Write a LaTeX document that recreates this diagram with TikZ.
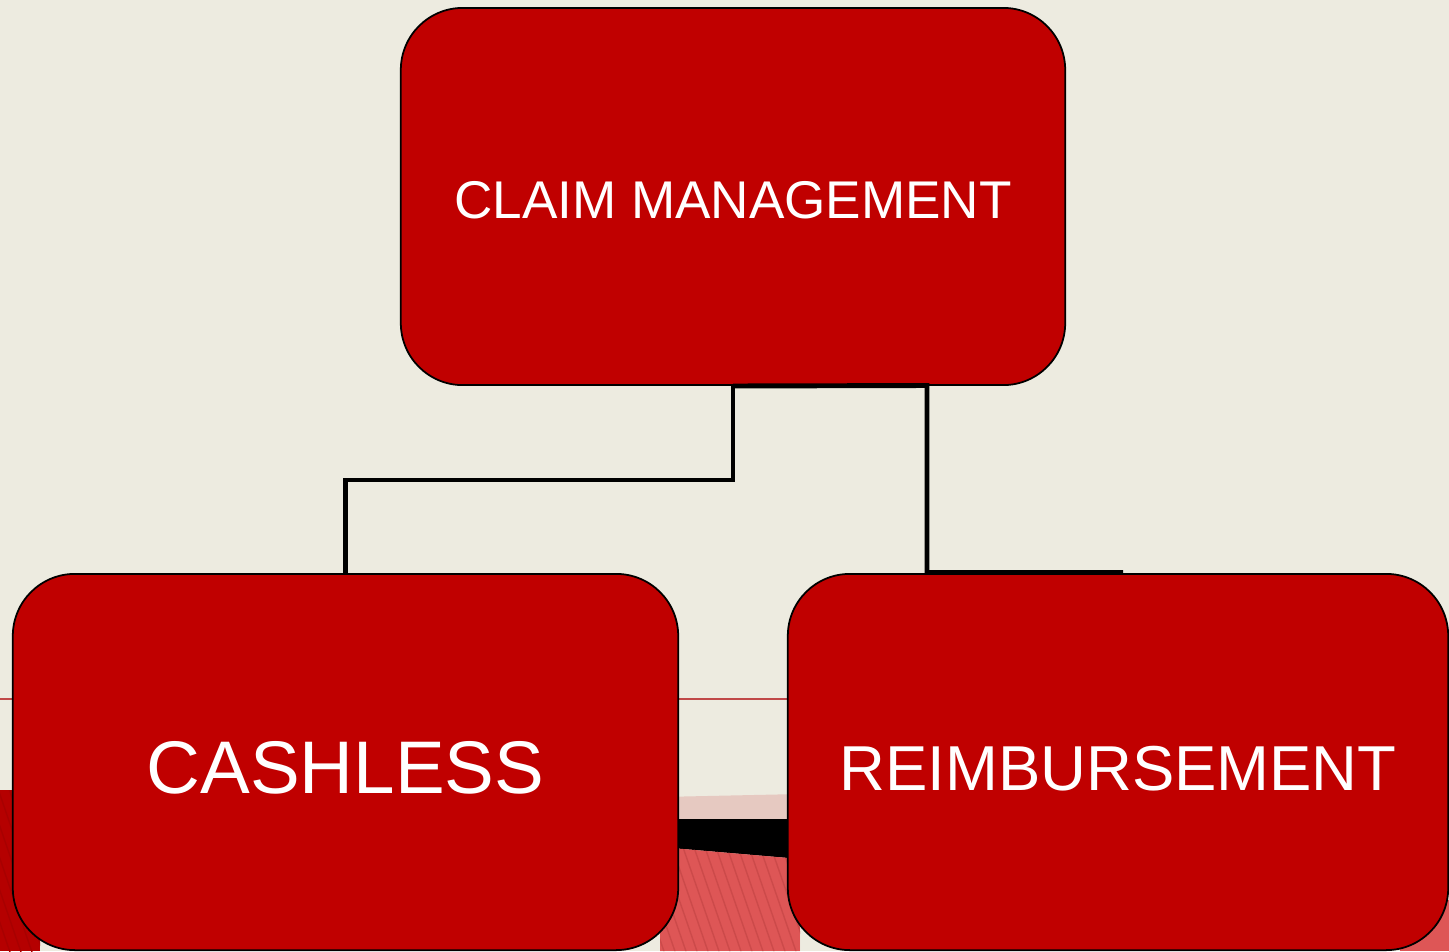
\documentclass[tikz,border=0pt]{standalone}
\usepackage{fontspec}
\setmainfont{Liberation Sans}
\definecolor{cream}{HTML}{EDEBE0}
\definecolor{boxred}{HTML}{C00000}
\definecolor{pinkband}{HTML}{E6C9C1}
\definecolor{hatchred}{HTML}{DE5656}
\definecolor{hatchline}{HTML}{CC4A4A}
\definecolor{darkred}{HTML}{B50000}
\definecolor{darkhatch}{HTML}{A80000}
\definecolor{thinline}{HTML}{C04848}
\tikzset{
  box/.style={draw=black, line width=0.5pt, fill=boxred, rounded corners=0.62cm,
    text=white, inner sep=0pt, align=center, text depth=0pt},
  link/.style={draw=black, line width=1.4pt}
}
\begin{document}
\begin{tikzpicture}[x={(0.01cm,0)}, y={(0,-0.01cm)}]
\useasboundingbox (0,0) rectangle (1449,951);
\fill[cream] (0,0) rectangle (1449,951);
% background decoration
\draw[thinline, line width=0.3pt] (0,699) -- (1449,699);
\fill[darkred] (0,790) rectangle (40,951);
\begin{scope}
  \clip (0,790) rectangle (40,951);
  \foreach \i in {0,...,8} {
    \draw[darkhatch, line width=0.4pt] (-60+\i*11,780) -- ++(60,175);
  }
\end{scope}
\fill[pinkband] (660,797) -- (800,794) -- (800,951) -- (660,951) -- cycle;
\fill[black] (660,819) -- (800,819) -- (800,859) -- (660,847) -- cycle;
\begin{scope}
  \clip (660,847) -- (800,859) -- (800,951) -- (660,951) -- cycle;
  \fill[hatchred] (660,840) rectangle (800,951);
  \foreach \i in {0,...,24} {
    \draw[hatchline, line width=0.4pt] (600+\i*11,830) -- ++(45,130);
  }
\end{scope}
\fill[hatchred] (1400,900) rectangle (1449,951);
% nodes
\node[box, minimum width=6.64cm, minimum height=3.77cm, text height=0.44cm,
  font=\fontsize{15.1pt}{18pt}\selectfont] (top) at (733,196.5) {CLAIM MANAGEMENT};
\node[box, minimum width=6.65cm, minimum height=3.76cm, text height=0.62cm,
  font=\fontsize{21.2pt}{25pt}\selectfont] (cash) at (345.5,762) {CASHLESS};
\node[box, minimum width=6.60cm, minimum height=3.76cm, text height=0.56cm,
  font=\fontsize{18.05pt}{22pt}\selectfont] (reim) at (1118,762) {REIMBURSEMENT};
% connectors
\coordinate (t2) at (927,385.5);
\coordinate (r2) at (1123,572.5);
\draw[link] (top.south) -- (top.south |- 0,480) -| (cash.north);
\draw[link] (top.south) -- (t2) -- (t2 |- r2) -- (r2);
\end{tikzpicture}
\end{document}
